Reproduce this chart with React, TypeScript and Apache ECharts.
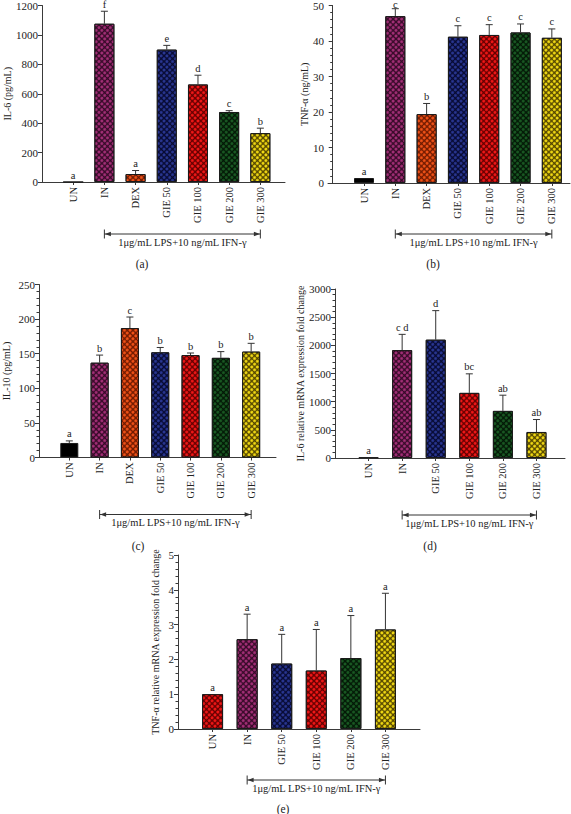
import React, { useEffect, useRef } from 'react';
import * as echarts from 'echarts';

// ---------- data ----------
const groupsSeven = ['UN', 'IN', 'DEX', 'GIE 50', 'GIE 100', 'GIE 200', 'GIE 300'];
const groupsSix = ['UN', 'IN', 'GIE 50', 'GIE 100', 'GIE 200', 'GIE 300'];

const il6Values = [0, 1076, 54, 900, 663, 476, 332];
const il6Errors = [0, 85, 24, 29, 63, 9, 34];
const il6Letters = ['a', 'f', 'a', 'e', 'd', 'c', 'b'];

const tnfValues = [1.4, 47.0, 19.4, 41.2, 41.7, 42.4, 40.9];
const tnfErrors = [0, 2.1, 3.0, 3.1, 2.9, 2.4, 2.5];
const tnfLetters = ['a', 'c', 'b', 'c', 'c', 'c', 'c'];

const il10Values = [21, 137, 187, 152, 148, 144, 153];
const il10Errors = [3, 11, 16, 7, 3, 9, 12];
const il10Letters = ['a', 'b', 'c', 'b', 'b', 'b', 'b'];

const il6mrnaValues = [10, 1915, 2100, 1156, 836, 462];
const il6mrnaErrors = [0, 280, 516, 338, 279, 221];
const il6mrnaLetters = ['a', 'c d', 'd', 'bc', 'ab', 'ab'];

const tnfmrnaValues = [1.0, 2.58, 1.88, 1.68, 2.04, 2.86];
const tnfmrnaErrors = [0, 0.72, 0.84, 1.18, 1.22, 1.04];
const tnfmrnaLetters = ['a', 'a', 'a', 'a', 'a', 'a'];

const treatmentText = '1\u03BCg/mL LPS+10 ng/mL IFN-\u03B3';

// ---------- styles ----------
const FONT = "'Liberation Serif', 'Times New Roman', serif";
const AXIS_COLOR = '#3a3a3a';
const TEXT_COLOR = '#222';

type Shade = { dark: string; bright: string | null };
const SHADES: Record<string, Shade> = {
  black: { dark: '#000000', bright: null },
  purple: { dark: '#360a28', bright: '#a8307a' },
  orange: { dark: '#701a00', bright: '#f65418' },
  blue: { dark: '#070a32', bright: '#2a3896' },
  red: { dark: '#640000', bright: '#f81818' },
  green: { dark: '#031806', bright: '#1a5c24' },
  yellow: { dark: '#544600', bright: '#f8e014' },
};
const colorsSeven = ['black', 'purple', 'orange', 'blue', 'red', 'green', 'yellow'];
const colorsSixD = ['black', 'purple', 'blue', 'red', 'green', 'yellow'];
const colorsSixE = ['red', 'purple', 'blue', 'red', 'green', 'yellow'];

type Panel = {
  names: string[];
  values: number[];
  errors: number[];
  letters: string[];
  colors: string[];
  yMax: number;
  yInterval: number;
  minor: boolean;
  yName: string;
  grid: { left: number; top: number; width: number; height: number };
  xMin: number;
  xMax: number;
  barWidth: number;
  nameGap: number;
  bracketOffset: number;
  tag: string;
  tagPos: [number, number];
};

const panels: Panel[] = [
  {
    names: groupsSeven, values: il6Values, errors: il6Errors, letters: il6Letters, colors: colorsSeven,
    yMax: 1200, yInterval: 200, minor: false, yName: 'IL-6 (pg/mL)',
    grid: { left: 42, top: 5, width: 243, height: 177 }, xMin: 0, xMax: 7.79, barWidth: 20, nameGap: 29,
    bracketOffset: 52, tag: '(a)', tagPos: [142, 264],
  },
  {
    names: groupsSeven, values: tnfValues, errors: tnfErrors, letters: tnfLetters, colors: colorsSeven,
    yMax: 50, yInterval: 10, minor: true, yName: 'TNF-\u03B1 (ng/mL)',
    grid: { left: 328, top: 5, width: 242, height: 178 }, xMin: -0.15, xMax: 7.58, barWidth: 20, nameGap: 18,
    bracketOffset: 51, tag: '(b)', tagPos: [433, 264],
  },
  {
    names: groupsSeven, values: il10Values, errors: il10Errors, letters: il10Letters, colors: colorsSeven,
    yMax: 250, yInterval: 50, minor: true, yName: 'IL-10 (pg/mL)',
    grid: { left: 39, top: 284.5, width: 237, height: 173 }, xMin: 0, xMax: 7.82, barWidth: 18, nameGap: 28,
    bracketOffset: 57, tag: '(c)', tagPos: [138, 546],
  },
  {
    names: groupsSix, values: il6mrnaValues, errors: il6mrnaErrors, letters: il6mrnaLetters, colors: colorsSixD,
    yMax: 3000, yInterval: 500, minor: true, yName: 'IL-6 relative mRNA expression fold change',
    grid: { left: 335, top: 289, width: 230, height: 169 }, xMin: 0, xMax: 6.85, barWidth: 20, nameGap: 30,
    bracketOffset: 57, tag: '(d)', tagPos: [430, 546],
  },
  {
    names: groupsSix, values: tnfmrnaValues, errors: tnfmrnaErrors, letters: tnfmrnaLetters, colors: colorsSixE,
    yMax: 5, yInterval: 1, minor: true, yName: 'TNF-\u03B1 relative mRNA expression fold change',
    grid: { left: 178, top: 555, width: 242, height: 174 }, xMin: 0, xMax: 7.0, barWidth: 21, nameGap: 18,
    bracketOffset: 51, tag: '(e)', tagPos: [283, 809],
  },
];

function barItem(colorKey: string, value: number, k: number) {
  const shade = SHADES[colorKey];
  const itemStyle: any = {
    color: shade.dark,
    borderColor: '#1a1a1a',
    borderWidth: 1,
  };
  if (shade.bright) {
    itemStyle.decal = {
      symbol: 'circle',
      symbolSize: 1,
      color: shade.bright,
      dashArrayX: [3, 1],
      dashArrayY: [3, 1],
      rotation: Math.PI / 4,
    };
  }
  return { value: [k + 1, value], itemStyle };
}

function buildOption() {
  const grid: any[] = [];
  const xAxis: any[] = [];
  const yAxis: any[] = [];
  const series: any[] = [];
  panels.forEach((p, i) => {
    const ks = p.names.map((_, k) => k + 1);
    grid.push({ ...p.grid, containLabel: false });
    xAxis.push({
      type: 'value',
      gridIndex: i,
      min: p.xMin,
      max: p.xMax,
      axisLine: { show: true, onZero: false, lineStyle: { color: AXIS_COLOR, width: 1 } },
      splitLine: { show: false },
      axisTick: { show: true, customValues: ks, length: 3, lineStyle: { color: AXIS_COLOR } },
      axisLabel: {
        customValues: ks,
        rotate: 90,
        margin: 5,
        fontFamily: FONT,
        fontSize: 10.5,
        color: TEXT_COLOR,
        formatter: (v: number) => p.names[Math.round(v) - 1] ?? '',
      },
    });
    yAxis.push({
      type: 'value',
      gridIndex: i,
      min: 0,
      max: p.yMax,
      interval: p.yInterval,
      axisLine: { show: true, lineStyle: { color: AXIS_COLOR, width: 1 } },
      axisTick: { show: true, length: 4, lineStyle: { color: AXIS_COLOR } },
      minorTick: { show: p.minor, splitNumber: 5, length: 2.5, lineStyle: { color: AXIS_COLOR } },
      splitLine: { show: false },
      minorSplitLine: { show: false },
      axisLabel: {
        fontFamily: FONT,
        fontSize: 11,
        color: TEXT_COLOR,
        margin: 4,
        formatter: (v: number) => String(v),
      },
      name: p.yName,
      nameLocation: 'middle',
      nameRotate: 90,
      nameGap: p.nameGap,
      nameTextStyle: { fontFamily: FONT, fontSize: 10, color: TEXT_COLOR },
    });
    series.push({
      type: 'bar',
      xAxisIndex: i,
      yAxisIndex: i,
      barWidth: p.barWidth,
      data: p.values.map((v, k) => barItem(p.colors[k], v, k)),
    });
    series.push({
      type: 'custom',
      xAxisIndex: i,
      yAxisIndex: i,
      clip: false,
      z: 5,
      data: p.values.map((v, k) => [k + 1, v, p.errors[k]]),
      renderItem: (params: any, api: any) => {
        const x = api.value(0);
        const v = api.value(1);
        const e = api.value(2);
        const base = api.coord([x, v]);
        const top = api.coord([x, v + e]);
        const children: any[] = [];
        if (e > 0) {
          children.push({
            type: 'line',
            shape: { x1: base[0], y1: base[1], x2: top[0], y2: top[1] },
            style: { stroke: '#333', lineWidth: 1 },
          });
          children.push({
            type: 'line',
            shape: { x1: top[0] - 3.5, y1: top[1], x2: top[0] + 3.5, y2: top[1] },
            style: { stroke: '#333', lineWidth: 1 },
          });
        }
        children.push({
          type: 'text',
          x: top[0],
          y: Math.max(top[1] - 1.5, 10),
          style: {
            text: p.letters[params.dataIndex],
            align: 'center',
            verticalAlign: 'bottom',
            fontFamily: FONT,
            fontSize: 10.5,
            fill: TEXT_COLOR,
          },
        });
        return { type: 'group', children };
      },
    });
  });
  return {
    animation: false,
    backgroundColor: '#ffffff',
    grid,
    xAxis,
    yAxis,
    series,
  };
}

function buildGraphic(chart: echarts.ECharts) {
  const elements: any[] = [];
  panels.forEach((p, i) => {
    const n = p.names.length;
    const a = chart.convertToPixel({ gridIndex: i } as any, [2, 0]) as number[];
    const b = chart.convertToPixel({ gridIndex: i } as any, [n, 0]) as number[];
    const y = a[1] + p.bracketOffset;
    const x1 = a[0];
    const x2 = b[0];
    const stroke = { stroke: '#333', lineWidth: 1 };
    elements.push({ type: 'line', shape: { x1, y1: y, x2, y2: y }, style: stroke });
    elements.push({ type: 'line', shape: { x1, y1: y - 4.5, x2: x1, y2: y + 4.5 }, style: stroke });
    elements.push({ type: 'line', shape: { x1: x2, y1: y - 4.5, x2, y2: y + 4.5 }, style: stroke });
    elements.push({
      type: 'polygon',
      shape: { points: [[x1 + 0.5, y], [x1 + 6.5, y - 2.3], [x1 + 6.5, y + 2.3]] },
      style: { fill: '#333' },
    });
    elements.push({
      type: 'polygon',
      shape: { points: [[x2 - 0.5, y], [x2 - 6.5, y - 2.3], [x2 - 6.5, y + 2.3]] },
      style: { fill: '#333' },
    });
    elements.push({
      type: 'text',
      x: (x1 + x2) / 2,
      y: y + 8,
      style: {
        text: treatmentText,
        align: 'center',
        verticalAlign: 'middle',
        fontFamily: FONT,
        fontSize: 10.5,
        fill: TEXT_COLOR,
      },
    });
    elements.push({
      type: 'text',
      x: p.tagPos[0],
      y: p.tagPos[1],
      style: {
        text: p.tag,
        align: 'center',
        verticalAlign: 'middle',
        fontFamily: FONT,
        fontSize: 11.5,
        fill: TEXT_COLOR,
      },
    });
  });
  return elements;
}

export default function App() {
  const ref = useRef<HTMLDivElement>(null);
  useEffect(() => {
    if (!ref.current) return;
    const chart = echarts.init(ref.current, undefined, { renderer: 'svg' });
    chart.setOption(buildOption() as any);
    chart.setOption({ graphic: { elements: buildGraphic(chart) } } as any);
    return () => chart.dispose();
  }, []);
  return (
    <div
      ref={ref}
      style={{ position: 'absolute', left: 0, top: 0, width: 571, height: 814, background: '#fff' }}
    />
  );
}
